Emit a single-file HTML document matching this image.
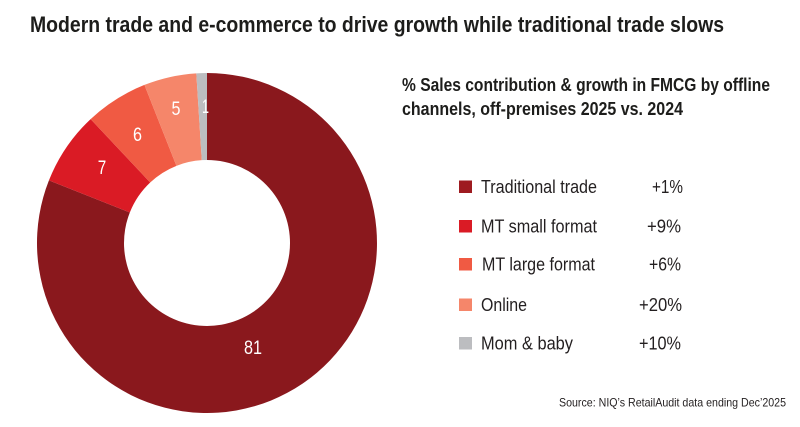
<!DOCTYPE html>
<html>
<head>
<meta charset="utf-8">
<style>
  html, body { margin: 0; padding: 0; background: #ffffff; }
  body { width: 800px; height: 427px; overflow: hidden; }
  svg { display: block; }
  text { font-family: "Liberation Sans", sans-serif; }
</style>
</head>
<body>
<svg width="800" height="427" viewBox="0 0 800 427" xmlns="http://www.w3.org/2000/svg">
  <rect x="0" y="0" width="800" height="427" fill="#ffffff"/>

  <!-- Title -->
  <text x="30" y="32" font-size="22" font-weight="bold" fill="#1d1d1b" textLength="694" lengthAdjust="spacingAndGlyphs">Modern trade and e-commerce to drive growth while traditional trade slows</text>

  <!-- Donut -->
  <path d="M207,73 A170,170 0 1 1 48.93,180.42 L129.83,212.45 A83,83 0 1 0 207,160 Z" fill="#8A181D"/>
  <path d="M48.93,180.42 A170,170 0 0 1 90.63,119.07 L150.19,182.49 A83,83 0 0 0 129.83,212.45 Z" fill="#DA1B25"/>
  <path d="M90.63,119.07 A170,170 0 0 1 144.42,84.93 L176.45,165.83 A83,83 0 0 0 150.19,182.49 Z" fill="#F05A43"/>
  <path d="M144.42,84.93 A170,170 0 0 1 196.32,73.34 L201.79,160.17 A83,83 0 0 0 176.45,165.83 Z" fill="#F5866A"/>
  <path d="M196.32,73.34 A170,170 0 0 1 207,73 L207,160 A83,83 0 0 0 201.79,160.17 Z" fill="#BCBDC0"/>

  <!-- Donut labels -->
  <g font-size="19" fill="#ffffff" text-anchor="middle">
    <text x="253" y="354" textLength="18" lengthAdjust="spacingAndGlyphs">81</text>
    <text x="102" y="174" textLength="8.5" lengthAdjust="spacingAndGlyphs">7</text>
    <text x="137.5" y="141" textLength="9" lengthAdjust="spacingAndGlyphs">6</text>
    <text x="176" y="115" textLength="9" lengthAdjust="spacingAndGlyphs">5</text>
    <text x="205.5" y="113" textLength="7" lengthAdjust="spacingAndGlyphs">1</text>
  </g>

  <!-- Subtitle -->
  <text x="402" y="91" font-size="18" font-weight="bold" fill="#1d1d1b" textLength="368" lengthAdjust="spacingAndGlyphs">% Sales contribution &amp; growth in FMCG by offline</text>
  <text x="402" y="115" font-size="18" font-weight="bold" fill="#1d1d1b" textLength="281" lengthAdjust="spacingAndGlyphs">channels, off-premises 2025 vs. 2024</text>

  <!-- Legend -->
  <rect x="459" y="180.5" width="13" height="12.5" fill="#9E1B20"/>
  <rect x="459" y="220" width="13" height="12.5" fill="#DA1B25"/>
  <rect x="459" y="258" width="13" height="12.5" fill="#F05A43"/>
  <rect x="459" y="298.5" width="13" height="12.5" fill="#F5866A"/>
  <rect x="459" y="337" width="13" height="12.5" fill="#BCBDC0"/>

  <g font-size="18.5" fill="#231f20">
    <text x="481" y="193" textLength="116" lengthAdjust="spacingAndGlyphs">Traditional trade</text>
    <text x="481" y="232.5" textLength="116" lengthAdjust="spacingAndGlyphs">MT small format</text>
    <text x="482" y="270.5" textLength="113" lengthAdjust="spacingAndGlyphs">MT large format</text>
    <text x="481" y="311" textLength="46" lengthAdjust="spacingAndGlyphs">Online</text>
    <text x="481" y="349.5" textLength="92" lengthAdjust="spacingAndGlyphs">Mom &amp; baby</text>
  </g>
  <g font-size="18.5" fill="#231f20" text-anchor="end">
    <text x="683" y="193" textLength="31" lengthAdjust="spacingAndGlyphs">+1%</text>
    <text x="681" y="232.5" textLength="34" lengthAdjust="spacingAndGlyphs">+9%</text>
    <text x="681" y="270.5" textLength="32" lengthAdjust="spacingAndGlyphs">+6%</text>
    <text x="682" y="311" textLength="43" lengthAdjust="spacingAndGlyphs">+20%</text>
    <text x="681" y="349.5" textLength="42" lengthAdjust="spacingAndGlyphs">+10%</text>
  </g>

  <!-- Source -->
  <text x="559" y="406.5" font-size="12" fill="#231f20" textLength="227" lengthAdjust="spacingAndGlyphs">Source: NIQ’s RetailAudit data ending Dec’2025</text>
</svg>
</body>
</html>
